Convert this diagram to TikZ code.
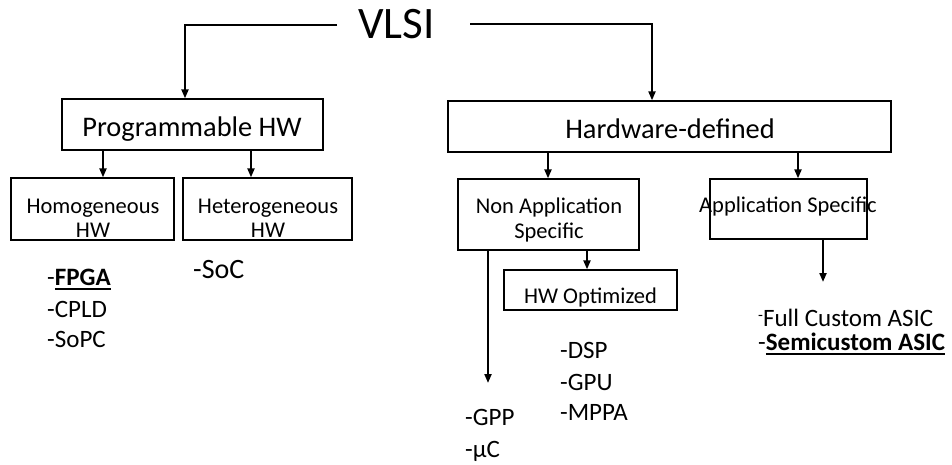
\documentclass[tikz,border=0pt]{standalone}
\usepackage{fontspec}
\setmainfont{Carlito}
\usetikzlibrary{arrows.meta}
\newcommand{\myul}[1]{\setbox0=\hbox{#1}\rlap{\rule[-4.5pt]{\wd0}{2pt}}\box0}
\begin{document}
\begin{tikzpicture}[x=1pt,y=-1pt,
  box/.style={draw=black, line width=1.3pt, inner sep=0pt},
  conn/.style={line width=2pt, -{Triangle[width=7pt,length=9pt]}},
  lbl/.style={anchor=base, inner sep=0pt},
  big/.style={font=\fontsize{28.4}{32}\selectfont},
  small/.style={font=\fontsize{22.5}{26}\selectfont},
  item/.style={anchor=base west, inner sep=0pt, font=\fontsize{25}{30}\selectfont}]
\useasboundingbox (0,0) rectangle (952,464);
\fill[white] (0,0) rectangle (952,464);
% boxes
\node[box, minimum width=261pt, minimum height=51pt] (prog) at (192.5,124.5) {};
\node[box, minimum width=443pt, minimum height=51pt] (hw) at (669.5,126.5) {};
\node[box, minimum width=163pt, minimum height=62pt] (homo) at (92.5,209) {};
\node[box, minimum width=169pt, minimum height=62pt] (hetero) at (267.5,209) {};
\node[box, minimum width=181pt, minimum height=71pt] (nonapp) at (548.5,214.5) {};
\node[box, minimum width=157pt, minimum height=60pt] (appspec) at (788.5,209) {};
\node[box, minimum width=173pt, minimum height=40pt] (hwopt) at (590.5,290) {};
% texts
\node[lbl, font=\fontsize{45}{50}\selectfont] (vlsi) at (396.5,38) {VLSI};
\node[lbl,big] (tprog) at (192,136) {Programmable HW};
\node[lbl,big] (thw) at (670,138) {Hardware-defined};
\node[lbl,small] (thomoa) at (93,213) {Homogeneous};
\node[lbl,small] (thomob) at (93,237) {HW};
\node[lbl,small] (theta) at (268,213) {Heterogeneous};
\node[lbl,small] (thetb) at (268,237) {HW};
\node[lbl,small] (tnona) at (549,213) {Non Application};
\node[lbl,small] (tnonb) at (549,238) {Specific};
\node[lbl,small] (tapp) at (788,212) {Application Specific};
\node[lbl,small] (topt) at (590.5,303) {HW Optimized};
% lists
\node[item] (fpga) at (47,285) {-\textbf{\myul{FPGA}}};
\node[item] (cpld) at (47,317) {-CPLD};
\node[item] (sopc) at (47,347) {-SoPC};
\node[item, font=\fontsize{28}{34}\selectfont] (soc) at (193,278) {-SoC};
\node[item] (dsp) at (560,358) {-DSP};
\node[item] (gpu) at (560,390) {-GPU};
\node[item] (mppa) at (560,420) {-MPPA};
\node[item] (gpp) at (465,425) {-GPP};
\node[item] (uc) at (465,457) {-µC};
\node[item] (full) at (758,326) {\raisebox{6pt}{\fontsize{16}{18}\selectfont -}Full Custom ASIC};
\node[item] (semi) at (758,350) {-\textbf{\myul{Semicustom ASIC}}};
% connector helpers
\coordinate (vl) at (337,25);
\coordinate (vr) at (470,24);
\coordinate (xa) at (185,0);
\coordinate (xb) at (652,0);
\coordinate (x1) at (103,0);
\coordinate (x2) at (251,0);
\coordinate (x3) at (548,0);
\coordinate (x4) at (798,0);
\coordinate (x5) at (587,0);
\coordinate (x6) at (488,0);
\coordinate (x7) at (823,0);
\coordinate (gppend) at (488,383);
\coordinate (asicend) at (823,282);
% connectors
\draw[conn] (vl) -| (xa |- prog.north);
\draw[conn] (vr) -| (xb |- hw.north);
\draw[conn] (x1 |- prog.south) -- (x1 |- homo.north);
\draw[conn] (x2 |- prog.south) -- (x2 |- hetero.north);
\draw[conn] (x3 |- hw.south) -- (x3 |- nonapp.north);
\draw[conn] (x4 |- hw.south) -- (x4 |- appspec.north);
\draw[conn] (x5 |- nonapp.south) -- (x5 |- hwopt.north);
\draw[conn] (x6 |- nonapp.south) -- (gppend);
\draw[conn] (x7 |- appspec.south) -- (asicend);
\end{tikzpicture}
\end{document}
